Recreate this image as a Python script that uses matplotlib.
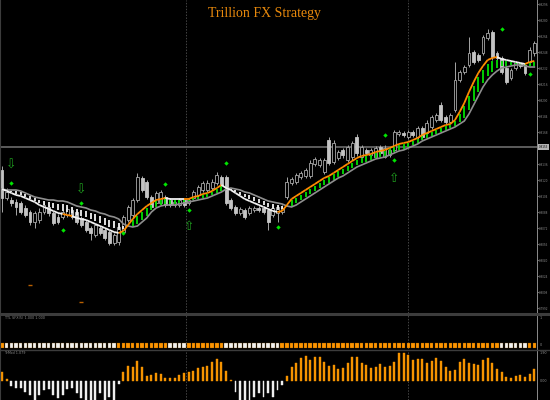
import matplotlib
matplotlib.use("Agg")
import matplotlib.pyplot as plt
import numpy as np
from matplotlib.collections import LineCollection
from matplotlib.lines import Line2D
import matplotlib.transforms as mtrans

# prices are in points (1 point = 0.0001)
opens = [8130, 8102, 8100, 8098, 8097, 8092, 8088, 8078, 8080, 8088,
         8093, 8087, 8083, 8083, 8085, 8090, 8088, 8082, 8078, 8072,
         8065, 8072, 8070, 8068, 8057, 8058, 8068, 8080, 8085, 8100,
         8122, 8118, 8103, 8097, 8097, 8103, 8100, 8095, 8095, 8100,
         8097, 8102, 8105, 8110, 8110, 8112, 8117, 8123, 8123, 8100,
         8093, 8087, 8090, 8087, 8090, 8092, 8092, 8090, 8085, 8087,
         8088, 8103, 8117, 8118, 8123, 8124, 8124, 8136, 8135, 8128,
         8160, 8138, 8142, 8150, 8140, 8143, 8163, 8143, 8150, 8145,
         8143, 8153, 8143, 8145, 8150, 8166, 8167, 8163, 8168, 8163,
         8172, 8167, 8173, 8180, 8195, 8183, 8178, 8190, 8220, 8228,
         8235, 8248, 8245, 8247, 8262, 8268, 8247, 8242, 8232, 8222,
         8232, 8236, 8235, 8238, 8247]
closes = [8102, 8108, 8097, 8093, 8088, 8085, 8078, 8087, 8088, 8095,
          8087, 8077, 8078, 8088, 8091, 8083, 8078, 8075, 8070, 8067,
          8075, 8067, 8062, 8057, 8065, 8073, 8083, 8093, 8100, 8123,
          8110, 8103, 8093, 8107, 8108, 8095, 8095, 8098, 8100, 8095,
          8100, 8108, 8113, 8117, 8117, 8118, 8125, 8115, 8097, 8092,
          8087, 8091, 8083, 8092, 8092, 8090, 8088, 8078, 8092, 8093,
          8092, 8118, 8121, 8125, 8127, 8130, 8137, 8141, 8140, 8140,
          8137, 8157, 8148, 8145, 8153, 8157, 8147, 8153, 8147, 8150,
          8152, 8147, 8152, 8150, 8168, 8168, 8165, 8168, 8165, 8172,
          8163, 8177, 8183, 8185, 8180, 8178, 8185, 8220, 8228, 8233,
          8247, 8238, 8240, 8263, 8267, 8243, 8242, 8228, 8218, 8230,
          8237, 8234, 8227, 8250, 8257]
highs = [8134, 8112, 8103, 8101, 8099, 8095, 8090, 8089, 8092, 8098,
         8095, 8089, 8086, 8090, 8093, 8092, 8090, 8084, 8080, 8074,
         8077, 8074, 8072, 8070, 8067, 8075, 8085, 8095, 8102, 8127,
         8124, 8120, 8105, 8109, 8110, 8105, 8102, 8100, 8102, 8102,
         8102, 8110, 8115, 8119, 8120, 8121, 8128, 8125, 8125, 8102,
         8095, 8093, 8092, 8094, 8094, 8094, 8094, 8092, 8094, 8095,
         8095, 8123, 8123, 8127, 8129, 8132, 8140, 8143, 8142, 8142,
         8163, 8160, 8150, 8152, 8155, 8159, 8166, 8155, 8152, 8152,
         8154, 8155, 8155, 8152, 8170, 8170, 8169, 8170, 8170, 8174,
         8174, 8180, 8185, 8187, 8198, 8185, 8187, 8238, 8230, 8235,
         8263, 8250, 8247, 8265, 8271, 8270, 8249, 8244, 8234, 8232,
         8239, 8238, 8237, 8253, 8259]
lows = [8088, 8100, 8094, 8085, 8086, 8083, 8075, 8072, 8077, 8086,
        8084, 8075, 8076, 8081, 8083, 8081, 8076, 8073, 8068, 8060,
        8063, 8065, 8060, 8055, 8055, 8055, 8066, 8078, 8083, 8098,
        8108, 8101, 8091, 8095, 8095, 8093, 8093, 8093, 8093, 8093,
        8095, 8100, 8103, 8108, 8108, 8110, 8115, 8113, 8095, 8090,
        8085, 8085, 8081, 8085, 8088, 8088, 8086, 8070, 8083, 8078,
        8086, 8101, 8115, 8116, 8121, 8122, 8122, 8134, 8133, 8126,
        8135, 8136, 8140, 8142, 8138, 8140, 8144, 8142, 8145, 8143,
        8142, 8145, 8142, 8143, 8148, 8164, 8163, 8161, 8163, 8161,
        8161, 8165, 8171, 8178, 8178, 8176, 8176, 8188, 8218, 8226,
        8233, 8236, 8238, 8245, 8260, 8240, 8240, 8226, 8216, 8220,
        8230, 8232, 8225, 8236, 8244]

fast_ma = [8111, 8109, 8107, 8105, 8104, 8102, 8100, 8098, 8095, 8093,
           8091, 8089, 8087, 8086, 8085, 8084, 8082, 8081, 8080, 8078,
           8076, 8074, 8072, 8070, 8068, 8067, 8069, 8075, 8081, 8086,
           8090, 8094, 8097, 8100, 8101, 8102, 8101, 8101, 8101, 8101,
           8101, 8103, 8104, 8106, 8107, 8109, 8112, 8115, 8112, 8110,
           8107, 8104, 8101, 8099, 8097, 8095, 8093, 8091, 8089, 8088,
           8089, 8095, 8101, 8104, 8107, 8110, 8113, 8116, 8119, 8122,
           8124, 8127, 8130, 8133, 8136, 8139, 8142, 8144, 8145, 8146,
           8148, 8149, 8150, 8152, 8154, 8156, 8157, 8158, 8160, 8162,
           8165, 8167, 8169, 8171, 8173, 8175, 8176, 8180, 8188, 8197,
           8208, 8218, 8227, 8234, 8240, 8242, 8243, 8241, 8240, 8239,
           8238, 8237, 8236, 8238, 8239]
slow_ma = [8111, 8110, 8110, 8110, 8109, 8107, 8105, 8103, 8102, 8101,
           8100, 8100, 8099, 8099, 8098, 8096, 8094, 8093, 8092, 8090,
           8089, 8087, 8086, 8084, 8083, 8081, 8076, 8074, 8073, 8074,
           8078, 8082, 8088, 8092, 8094, 8095, 8095, 8095, 8096, 8097,
           8098, 8099, 8100, 8101, 8102, 8104, 8106, 8108, 8111, 8112,
           8111, 8110, 8108, 8107, 8105, 8103, 8101, 8099, 8098, 8097,
           8096, 8094, 8093, 8095, 8098, 8101, 8104, 8107, 8110, 8113,
           8116, 8119, 8122, 8124, 8127, 8130, 8133, 8135, 8137, 8139,
           8141, 8142, 8143, 8145, 8147, 8149, 8150, 8152, 8154, 8156,
           8159, 8161, 8163, 8165, 8167, 8169, 8171, 8173, 8176, 8179,
           8186, 8195, 8204, 8213, 8220, 8225, 8229, 8232, 8233, 8234,
           8235, 8235, 8234, 8233, 8233]
# o = up (orange), w = down (white)
fast_state = "w" * 14 + "o" * 2 + "w" * 10 + "o" * 10 + "w" * 4 + "o" * 8 + "w" * 12 + "o" * 47 + "w" * 6 + "o" * 2
box_state = "o" + "w" * 24 + "o" * 11 + "w" * 4 + "o" * 8 + "w" * 12 + "o" * 47 + "w" * 6 + "o" * 2

hist = [9, 2, -5, -7, -7, -11, -14, -21, -14, -9,
        -8, -14, -17, -14, -8, -7, -12, -17, -21, -21,
        -21, -12, -21, -16, -21, -3, 9, 15, 14, 20,
        14, 5, 6, 8, 7, 3, 3, 3, 6, 8,
        9, 10, 13, 14, 15, 19, 22, 19, 10, 1,
        -11, -21, -21, -21, -16, -12, -16, -12, -16, -9,
        -4, 5, 14, 18, 23, 25, 21, 24, 24, 19,
        15, 16, 12, 13, 18, 24, 24, 18, 16, 13,
        14, 17, 14, 15, 19, 28, 28, 26, 21, 22,
        22, 18, 20, 23, 20, 14, 10, 11, 19, 22,
        18, 17, 16, 21, 23, 18, 12, 9, 4, 3,
        5, 6, 4, 7, 12]

dot_bars = [2, 17, 13, 26, 35, 40, 48, 59, 82, 84, 107, 113]
dot_price = [8117, 8097, 8070, 8067, 8116, 8090, 8137, 8073, 8165, 8140, 8271, 8226]
down_arrow_bars = [2, 17]
down_arrow_price = [8135, 8110]
up_arrow_bars = [40, 84]
up_arrow_price = [8073, 8122]
mark_bars = [6, 17]
mark_price = [8015, 7998]
period_seps = [39.4, 86.9]
last_price = 8153
price_ticks = [8296 - 16 * k for k in range(20) if k != 9]

W, H = 550, 400


def px_rect(x0, y0, x1, y1):
    return [x0 / W, 1 - y1 / H, (x1 - x0) / W, (y1 - y0) / H]


fig = plt.figure(figsize=(5.5, 4), dpi=100, facecolor="black")
ax = fig.add_axes(px_rect(0, 0, 537, 313))
ax_box = fig.add_axes(px_rect(0, 315, 537, 349))
ax_hist = fig.add_axes(px_rect(0, 350, 537, 400))

n = len(closes)
idx = np.arange(n)
o = np.array(opens, float)
c = np.array(closes, float)
h = np.array(highs, float)
l = np.array(lows, float)
fast = np.array(fast_ma, float)
slow = np.array(slow_ma, float)

for a in (ax, ax_box, ax_hist):
    a.set_facecolor("black")
    a.set_xlim(-0.43, 114.57)
    a.set_xticks([])
    for s in a.spines.values():
        s.set_visible(False)
    a.spines["left"].set_visible(True)
    a.spines["left"].set_color("#3c3c3c")
    a.spines["right"].set_visible(True)
    a.spines["right"].set_color("#8c8c8c")
    a.spines["right"].set_linewidth(0.7)
    for b in period_seps:
        a.axvline(b, color="#454545", ls=(0, (1.5, 1.5)), lw=0.7, zorder=1)

# main chart
ax.set_ylim(7987, 8300)
ax.axhline(last_price, color="#5c5c5c", lw=1.4, zorder=1)

up = c >= o
body_lo = np.minimum(o, c)
body_h = np.maximum(np.abs(c - o), 0.8)
ax.vlines(idx, l, h, color="#a6a6a6", lw=0.7, zorder=2)
ax.bar(idx[up], body_h[up], bottom=body_lo[up], width=0.62, facecolor="black",
       edgecolor="#a8a8a8", linewidth=0.6, zorder=3)
ax.bar(idx[~up], body_h[~up], bottom=body_lo[~up], width=0.62, facecolor="#c4c4c4",
       edgecolor="#c4c4c4", linewidth=0.6, zorder=3)

gap = fast - slow
hatch_col = np.where(gap > 0, "#00e000", "#f2f2f2")
pad = np.where(gap > 0, 0.18, 0.25)
ax.vlines(idx, slow + pad * gap, fast - pad * gap, colors=hatch_col, lw=1.3, zorder=4)

ax.plot(idx, slow, color="#8e8e8e", lw=1.2, zorder=5)
segs = [[(i, fast[i]), (i + 1, fast[i + 1])] for i in range(n - 1)]
seg_cols = ["#ff8c00" if fast_state[i + 1] == "o" else "#f2f2f2" for i in range(n - 1)]
ax.add_collection(LineCollection(segs, colors=seg_cols, linewidths=1.3, zorder=6))

ax.scatter(dot_bars, dot_price, marker="D", s=5, color="#00e600", lw=0, zorder=7)
for b, p in zip(down_arrow_bars, down_arrow_price):
    ax.text(b, p, "\u21e9", ha="center", va="center", fontsize=9, color="#1f9e1f",
            family="DejaVu Sans", zorder=7)
for b, p in zip(up_arrow_bars, up_arrow_price):
    ax.text(b, p, "\u21e7", ha="center", va="center", fontsize=9, color="#1f9e1f",
            family="DejaVu Sans", zorder=7)
ax.plot(mark_bars, mark_price, ls="none", marker="_", ms=3, mew=1, color="#b86000")

ax.yaxis.tick_right()
ax.set_yticks(price_ticks)
ax.set_yticklabels([f"{v / 10000:.4f}" for v in price_ticks])
ax.tick_params(axis="y", colors="#8a8a8a", labelsize=2.0, length=1.2, width=0.5, pad=0.5)
trans = mtrans.blended_transform_factory(ax.transAxes, ax.transData)
ax.text(1.0035, last_price, f"{last_price / 10000:.4f}", transform=trans, fontsize=2.0,
        color="black", ha="left", va="center",
        bbox=dict(facecolor="#b4b4b4", edgecolor="none", pad=0.5), zorder=8, clip_on=False)

# trend boxes
ax_box.set_ylim(-4, 30)
ax_box.set_yticks([])
box_cols = ["#ff9500" if s == "o" else "#f0f0f0" for s in box_state]
ax_box.bar(idx, 5, bottom=-2.5, width=0.74, color=box_cols, edgecolor="#7a4a00", linewidth=0.2)

# histogram
ax_hist.set_ylim(-19, 31)
ax_hist.set_yticks([])
hv = np.array(hist, float)
hist_cols = np.where(hv > 0, "#f59300", "#eeeeee")
ax_hist.bar(idx, hv, width=0.42, color=hist_cols, edgecolor=hist_cols, linewidth=0.3)

# separators and labels
fig.add_artist(Line2D([0, 1], [1 - 313.5 / H, 1 - 313.5 / H], color="#3c3c3c", lw=2.2))
fig.add_artist(Line2D([0, 1], [1 - 349.5 / H, 1 - 349.5 / H], color="#3c3c3c", lw=1.0))

small = dict(fontsize=2.4, color="#8a8a8a", va="center", family="DejaVu Sans")
fig.text(5 / W, 1 - 318 / H, "TTL SFX(5) 1.000 1.000", **small)
fig.text(5 / W, 1 - 353 / H, "TrMcd 1.079", **small)
fig.text(540 / W, 1 - 318 / H, "1", **small)
fig.text(540 / W, 1 - 345 / H, "0", **small)
fig.text(540 / W, 1 - 353.5 / H, "1.90", **small)
fig.text(540 / W, 1 - 381 / H, "0.00", **small)

fig.text(264 / W, 1 - 13 / H, "Trillion FX Strategy", ha="center", va="center",
         color="#e8890c", fontsize=10, family="Liberation Serif")

fig.savefig("out.png", dpi=100, facecolor="black")
